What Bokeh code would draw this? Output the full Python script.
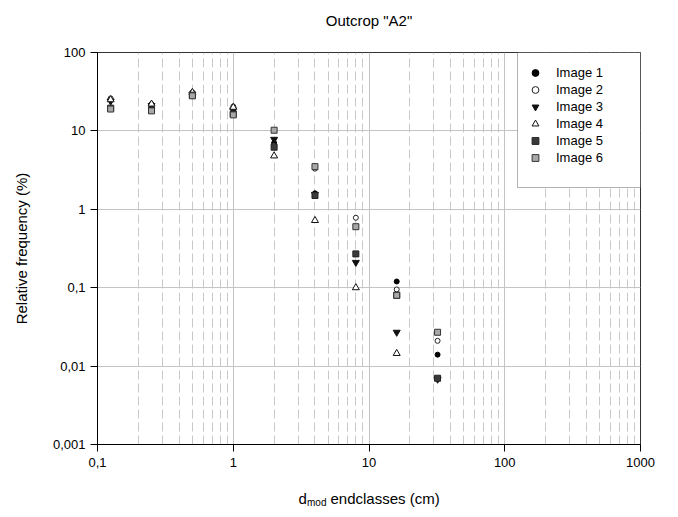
import numpy as np
from bokeh.plotting import figure
from bokeh.layouts import column
from bokeh.models import FixedTicker, Label, Legend, LegendItem, BoxAnnotation
from bokeh.embed import file_html
from bokeh.resources import INLINE

title_text = 'Outcrop "A2"'
y_title = "Relative frequency (%)"

classes = [0.125, 0.25, 0.5, 1, 2, 4, 8, 16, 32]
image1 = [25.0, 21.0, 30.0, 19.0, 7.0, 1.6, 0.27, 0.12, 0.014]
image2 = [26.0, 22.0, 31.0, 20.5, 6.5, 3.3, 0.78, 0.095, 0.021]
image3 = [24.0, 21.0, 29.5, 18.5, 7.8, 1.55, 0.21, 0.027, 0.0068]
image4 = [25.0, 22.0, 31.0, 20.0, 4.8, 0.72, 0.10, 0.0145]
image5 = [19.5, 18.5, 28.5, 16.5, 6.2, 1.5, 0.27, 0.08, 0.007]
image6 = [19.0, 18.0, 28.0, 16.0, 10.2, 3.5, 0.6, 0.08, 0.027]

x_ticks = [0.1, 1, 10, 100, 1000]
x_tick_labels = ["0,1", "1", "10", "100", "1000"]
x_minor = [m * 10.0 ** e for e in range(-1, 3) for m in range(2, 10)]
y_ticks = [0.001, 0.01, 0.1, 1, 10, 100]
y_tick_labels = ["0,001", "0,01", "0,1", "1", "10", "100"]

FONT = "Liberation Sans"


def strip(height):
    f = figure(width=670, height=height, x_range=(0, 1), y_range=(0, 1),
               x_axis_location=None, y_axis_location=None,
               min_border=0, output_backend="svg", toolbar_location=None)
    f.outline_line_color = None
    f.grid.visible = False
    f.background_fill_color = "white"
    f.border_fill_color = "white"
    return f


# title strip
p0 = strip(30)
p0.add_layout(Label(x=271.5, y=10, x_units="screen", y_units="screen",
                    text=title_text, text_align="center", text_baseline="middle",
                    text_font=FONT, text_font_size="15px", text_color="black"))

p = figure(x_axis_type="log", y_axis_type="log",
           x_range=(0.1, 1000), y_range=(0.001, 100),
           frame_width=543, frame_height=392,
           min_border_left=97, min_border_right=30,
           min_border_top=22, min_border_bottom=30,
           output_backend="svg", toolbar_location=None)
p.background_fill_color = "white"
p.border_fill_color = "white"
p.outline_line_color = "#333333"

xt = FixedTicker(ticks=x_ticks, minor_ticks=x_minor)
yt = FixedTicker(ticks=y_ticks, minor_ticks=[])
p.xaxis.ticker = xt
p.yaxis.ticker = yt
p.xgrid.ticker = xt
p.ygrid.ticker = yt
p.xaxis.major_label_overrides = {t: l for t, l in zip(x_ticks, x_tick_labels)}
p.yaxis.major_label_overrides = {t: l for t, l in zip(y_ticks, y_tick_labels)}

for ax in (p.xaxis[0], p.yaxis[0]):
    ax.axis_line_color = "black"
    ax.major_tick_line_color = "black"
    ax.major_tick_in = 0
    ax.major_tick_out = 7
    ax.minor_tick_line_color = None
    ax.major_label_text_font = FONT
    ax.major_label_text_font_size = "13px"
    ax.major_label_text_color = "black"
p.xaxis.major_label_standoff = 6
p.yaxis.major_label_standoff = 5

p.yaxis.axis_label = y_title
p.yaxis.axis_label_text_font = FONT
p.yaxis.axis_label_text_font_size = "15px"
p.yaxis.axis_label_text_font_style = "normal"
p.yaxis.axis_label_text_color = "black"
p.yaxis.axis_label_standoff = 20

p.xgrid.grid_line_color = "#c4c4c4"
p.xgrid.minor_grid_line_color = "#c8c8c8"
p.xgrid.minor_grid_line_dash = "9 4"
p.ygrid.grid_line_color = "#c4c4c4"
p.ygrid.minor_grid_line_color = None

r1 = p.scatter(classes, image1, marker="circle", size=5,
               fill_color="black", line_color="black")
r2 = p.scatter(classes, image2, marker="circle", size=5,
               fill_color="white", line_color="#222222")
r3 = p.scatter(classes, image3, marker="inverted_triangle", size=7,
               fill_color="#111111", line_color="#111111")
r4 = p.scatter(classes[:len(image4)], image4, marker="triangle", size=7,
               fill_color="white", line_color="#111111")
r5 = p.scatter(classes, image5, marker="square", size=6,
               fill_color="#3a3a3a", line_color="#222222")
r6 = p.scatter(classes, image6, marker="square", size=6,
               fill_color="#a8a8a8", line_color="#333333")

box = BoxAnnotation(left=420, right=543, top=392, bottom=257,
                    left_units="screen", right_units="screen",
                    top_units="screen", bottom_units="screen",
                    fill_color="white", fill_alpha=1.0,
                    line_color="black", line_width=1)
p.add_layout(box)

items = [LegendItem(label="Image %d" % (i + 1), renderers=[r])
         for i, r in enumerate([r1, r2, r3, r4, r5, r6])]
legend = Legend(items=items, location=(420, 270),
                border_line_alpha=0, background_fill_alpha=0,
                padding=8, margin=0, spacing=0,
                label_height=17, glyph_height=17, glyph_width=20,
                label_standoff=11,
                label_text_font=FONT, label_text_font_size="13px",
                label_text_color="black")
p.add_layout(legend)

# x-axis title strip: d_mod endclasses (cm)
p2 = strip(40)
p2.add_layout(Label(x=201, y=16.5, x_units="screen", y_units="screen",
                    text="d", text_align="left", text_baseline="alphabetic",
                    text_font=FONT, text_font_size="15px", text_color="black"))
p2.add_layout(Label(x=209.5, y=12.5, x_units="screen", y_units="screen",
                    text="mod", text_align="left", text_baseline="alphabetic",
                    text_font=FONT, text_font_size="10px", text_color="black"))
p2.add_layout(Label(x=233, y=16.5, x_units="screen", y_units="screen",
                    text="endclasses (cm)", text_align="left", text_baseline="alphabetic",
                    text_font=FONT, text_font_size="15px", text_color="black"))

layout = column(p0, p, p2, spacing=0)
open("out.html", "w").write(file_html(layout, INLINE))
